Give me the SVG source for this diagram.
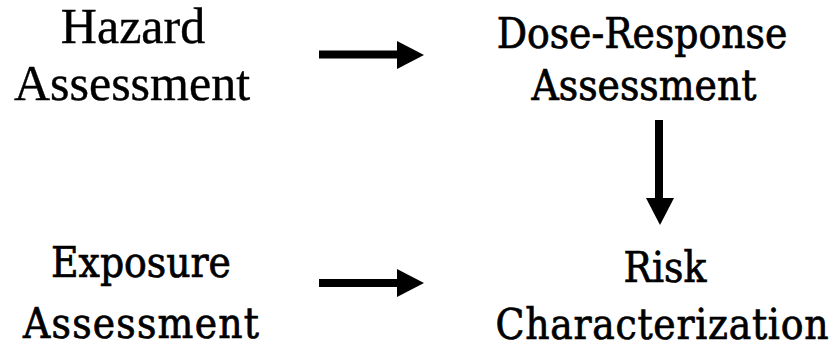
<svg xmlns="http://www.w3.org/2000/svg" width="839" height="347" viewBox="0 0 839 347">
<style>
.t1{font-family:"Liberation Serif","Times New Roman",serif;font-size:50px;fill:#000;stroke:#000;stroke-width:0.4;text-anchor:middle}
.t2{font-family:"DejaVu Serif Condensed","DejaVu Serif",serif;font-stretch:condensed;font-size:42px;fill:#000;stroke:#000;stroke-width:0.7;text-anchor:middle}
.shaft{stroke:#000;stroke-width:8;fill:none}
.head{fill:#000}
</style>
<rect width="839" height="347" fill="#fff"/>
<g id="hazard"><text class="t1" x="133" y="43">Hazard</text><text class="t1" x="132" y="100">Assessment</text></g>
<g id="dose-response"><text class="t2" x="642" y="48">Dose-Response</text><text class="t2" x="644" y="100">Assessment</text></g>
<g id="exposure"><text class="t2" x="141" y="277">Exposure</text><text class="t2" x="141" y="338" textLength="236">Assessment</text></g>
<g id="risk"><text class="t2" x="665" y="282">Risk</text><text class="t2" x="662" y="339" textLength="333">Characterization</text></g>
<g id="connectors">
<line class="shaft" x1="319" y1="54.5" x2="398" y2="54.5"/><polygon class="head" points="397,41 424,55 397,69"/>
<line class="shaft" x1="319" y1="283" x2="398" y2="283"/><polygon class="head" points="397,269 424,283 397,297"/>
<line class="shaft" x1="659" y1="120" x2="659" y2="199"/><polygon class="head" points="646,198 674,198 660,225"/>
</g>
</svg>
